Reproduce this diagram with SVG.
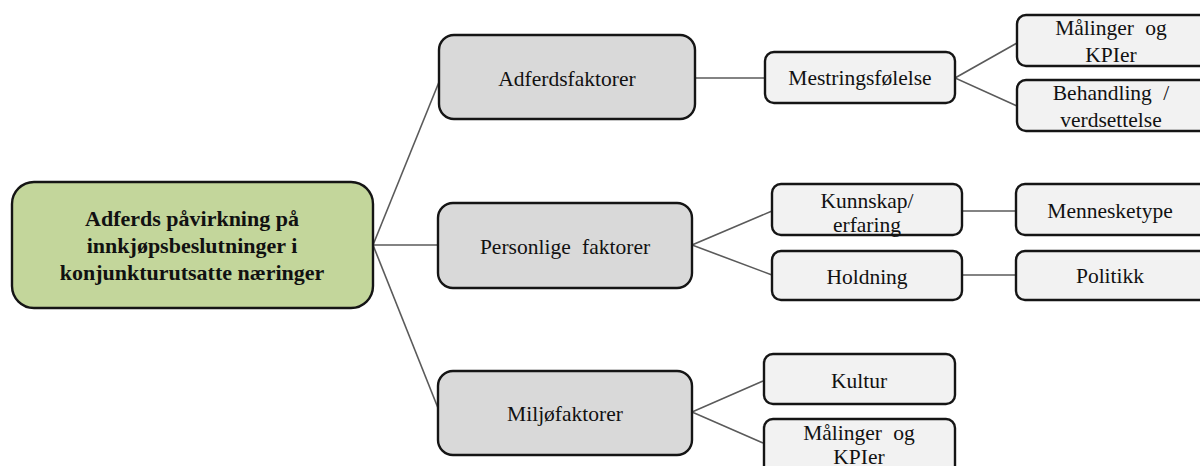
<svg xmlns="http://www.w3.org/2000/svg" width="1200" height="466" viewBox="0 0 1200 466">
  <style>
    .link { stroke: #5a5a5a; stroke-width: 1.6; fill: none; }
    .box { stroke: #151515; stroke-width: 2.4; }
    .root { fill: #c3d69b; }
    .mid { fill: #d9d9d9; }
    .leaf { fill: #f2f2f2; }
    text { font-family: Liberation Serif, DejaVu Serif, Times New Roman, serif; font-size: 21.5px; fill: #111; text-anchor: middle; }
    text.bold { font-weight: bold; font-size: 22px; }
  </style>
  <rect width="1200" height="466" fill="#ffffff"/>

  <g id="connectors">
    <line class="link" x1="373" y1="245" x2="439" y2="82"/>
    <line class="link" x1="373" y1="245" x2="438" y2="245"/>
    <line class="link" x1="373" y1="245" x2="438" y2="408"/>
    <line class="link" x1="695" y1="78" x2="765" y2="78"/>
    <polyline class="link" points="1017,43 955,78 1017,106"/>
    <polyline class="link" points="772,211 692,245 772,275"/>
    <line class="link" x1="962" y1="211" x2="1015" y2="211"/>
    <line class="link" x1="962" y1="275" x2="1015" y2="275"/>
    <polyline class="link" points="763,381 692,412 763,443"/>
  </g>

  <g id="root">
    <rect class="box root" x="12" y="182" width="361" height="126" rx="22"/>
    <text class="bold" x="192" y="226">Adferds påvirkning på</text>
    <text class="bold" x="192" y="253">innkjøpsbeslutninger i</text>
    <text class="bold" x="192" y="280">konjunkturutsatte næringer</text>
  </g>

  <g id="adferdsfaktorer">
    <rect class="box mid" x="439" y="35" width="256" height="84" rx="15"/>
    <text x="567" y="86">Adferdsfaktorer</text>
  </g>

  <g id="personlige-faktorer">
    <rect class="box mid" x="438" y="203" width="254" height="85" rx="15"/>
    <text x="565" y="254" word-spacing="6">Personlige faktorer</text>
  </g>

  <g id="miljofaktorer">
    <rect class="box mid" x="438" y="371" width="254" height="84" rx="15"/>
    <text x="565" y="421">Miljøfaktorer</text>
  </g>

  <g id="mestringsfolelse">
    <rect class="box leaf" x="765" y="52" width="190" height="51" rx="9"/>
    <text x="860" y="85">Mestringsfølelse</text>
  </g>

  <g id="malinger-kpier-1">
    <rect class="box leaf" x="1017" y="15" width="191" height="51" rx="9"/>
    <text x="1111" y="35" word-spacing="6">Målinger og</text>
    <text x="1111" y="62">KPIer</text>
  </g>

  <g id="behandling-verdsettelse">
    <rect class="box leaf" x="1017" y="80" width="191" height="51" rx="9"/>
    <text x="1111" y="100" word-spacing="6">Behandling /</text>
    <text x="1111" y="127">verdsettelse</text>
  </g>

  <g id="kunnskap-erfaring">
    <rect class="box leaf" x="772" y="184" width="190" height="51" rx="9"/>
    <text x="867" y="208">Kunnskap/</text>
    <text x="867" y="232">erfaring</text>
  </g>

  <g id="holdning">
    <rect class="box leaf" x="772" y="251" width="190" height="49" rx="9"/>
    <text x="867" y="284">Holdning</text>
  </g>

  <g id="mennesketype">
    <rect class="box leaf" x="1016" y="184" width="192" height="51" rx="9"/>
    <text x="1110" y="218">Mennesketype</text>
  </g>

  <g id="politikk">
    <rect class="box leaf" x="1016" y="251" width="192" height="49" rx="9"/>
    <text x="1110" y="283">Politikk</text>
  </g>

  <g id="kultur">
    <rect class="box leaf" x="764" y="354" width="191" height="50" rx="9"/>
    <text x="859" y="388">Kultur</text>
  </g>

  <g id="malinger-kpier-2">
    <rect class="box leaf" x="764" y="419" width="191" height="60" rx="9"/>
    <text x="859" y="440" word-spacing="6">Målinger og</text>
    <text x="859" y="464">KPIer</text>
  </g>
</svg>
